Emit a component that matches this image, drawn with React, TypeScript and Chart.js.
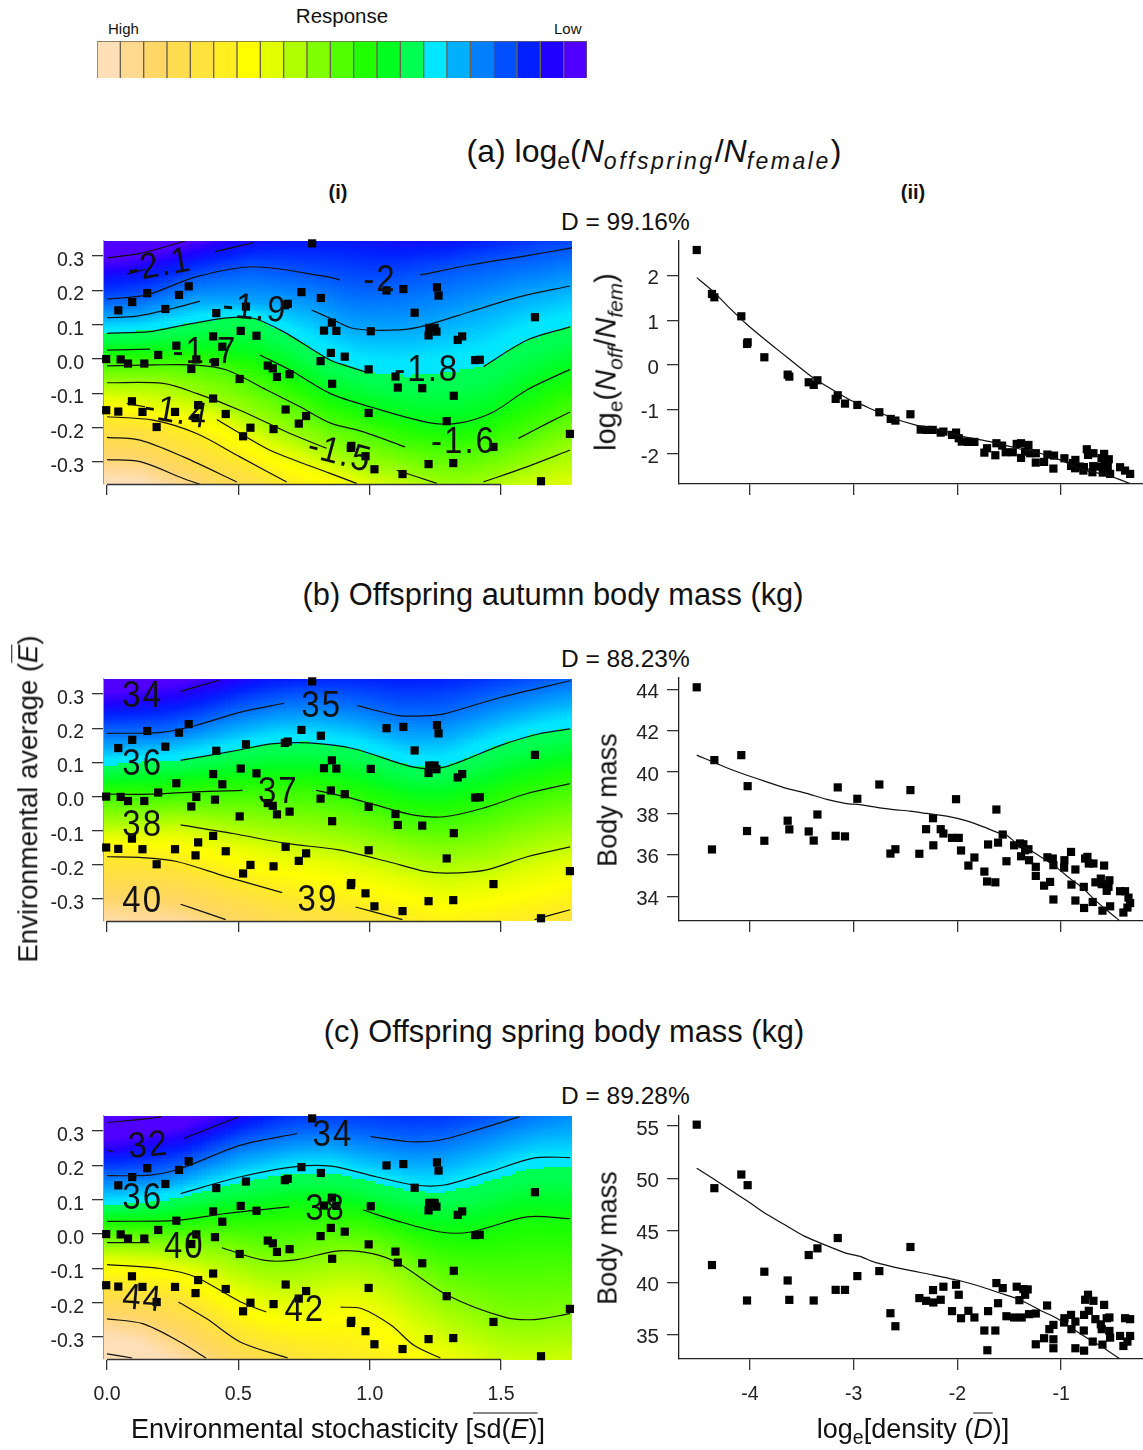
import React, { useEffect, useRef } from "react";
import { Chart, registerables } from "chart.js";

Chart.register(...registerables);
Chart.defaults.font.family = '"Liberation Sans", Arial, sans-serif';
Chart.defaults.color = "#222";

const LEGEND_COLORS = ["#FFDFB8","#FFD990","#FFD766","#FFDC50","#FFE23C","#FFEE20","#FFFF00","#E2FF00","#B0FF00","#80FF00","#50FF00","#20FF00","#00FF20","#00FF50","#00E6FF","#00B0FF","#0080FF","#0050FF","#0020FF","#2000FF","#5000FF"];
const LEGEND_VALUES = LEGEND_COLORS.map(() => 1);

// Left column: environmental stochasticity, environmental average
const SITES: number[][] = [[.781,.337],[.153,.192],[.274,.187],[.311,.212],[.096,.166],[.043,.142],[.222,.146],[.416,.134],[.529,.153],[.677,.157],[.688,.161],[.74,.195],[.814,.178],[1.064,.2],[1.128,.204],[1.256,.209],[1.262,.185],[1.171,.135],[1.226,.091],[1.247,.091],[1.254,.08],[1.224,.069],[1.352,.066],[1.335,.056],[1.629,.122],[.856,.106],[.826,.083],[.873,.082],[1.004,.081],[.509,.082],[.569,.068],[.404,.066],[.439,.036],[.264,.039],[.195,.012],[-.003,0],[.052,-.001],[.08,-.013],[.142,-.013],[.34,-.001],[.321,-.029],[.411,-.009],[.505,-.058],[.612,-.019],[.631,-.027],[.647,-.052],[.695,-.044],[.813,-.006],[.852,.018],[.905,.007],[.857,-.072],[.996,-.03],[1.098,-.051],[1.107,-.083],[1.2,-.085],[1.32,-.107],[1.401,-.003],[1.419,-.002],[.095,-.123],[-.003,-.149],[.043,-.153],[.135,-.154],[.259,-.154],[.347,-.134],[.404,-.115],[.337,-.172],[.452,-.16],[.189,-.198],[.546,-.2],[.518,-.225],[.634,-.204],[.68,-.147],[.758,-.166],[.73,-.188],[.996,-.157],[1.293,-.181],[.93,-.253],[.928,-.259],[.984,-.283],[1.018,-.321],[1.125,-.335],[1.224,-.306],[1.318,-.303],[1.471,-.256],[1.652,-.356],[1.762,-.218]];

// Contours: [x, y] or [x, y, 0] where the line is interrupted for its label
const A_LEVELS = [-2.2,-2.1,-2,-1.9,-1.8,-1.7,-1.6,-1.5,-1.4,-1.3,-1.2,-1.1];
const A_CONTOURS: number[][][] = [
  [[0,.295],[.126,.308],[.275,.339],[.38,.365],[.7,.47,0],[1.1,.46,0],[1.4,.48,0],[1.78,.53,0]],
  [[0,.24,0],[.05,.244,0],[.075,.247],[.145,.261],[.2,.27,0],[.3,.29,0],[.411,.313],[.557,.339],[.7,.36,0],[.9,.37,0],[1.1,.345,0],[1.3,.35,0],[1.5,.385,0],[1.78,.43,0]],
  [[0,.175],[.151,.187],[.341,.24],[.557,.269],[.849,.238],[.887,.23],[1,.22,0],[1.1,.23,0],[1.192,.245],[1.382,.274],[1.573,.298],[1.763,.323],[1.78,.325]],
  [[0,.121],[.113,.125],[.253,.148],[.354,.169],[.5,.165,0],[.65,.16,0],[.779,.143],[.849,.119],[.938,.089],[1.116,.085],[1.217,.099],[1.382,.138],[1.573,.182],[1.763,.213]],
  [[0,.075],[.164,.08],[.291,.099],[.456,.12],[.557,.119],[.671,.08],[.849,-.003],[.9,-.017],[.995,-.04],[1.15,-.05,0],[1.3,-.04,0],[1.433,-.022],[1.598,.055],[1.763,.094]],
  [[0,.026],[.164,.029],[.3,.03,0],[.45,.025,0],[.56,.015,0],[.582,.012],[.697,-.032],[.849,-.1],[1.001,-.139],[1.23,-.186],[1.344,-.186],[1.471,-.154],[1.598,-.09],[1.763,-.03]],
  [[0,-.02],[.176,-.017],[.329,-.017],[.456,-.032],[.608,-.09],[.735,-.139],[.849,-.186],[.976,-.212],[1.135,-.256],[1.25,-.27,0],[1.4,-.27,0],[1.566,-.231],[1.674,-.188],[1.763,-.154]],
  [[0,-.069],[.214,-.071],[.341,-.1],[.506,-.149],[.697,-.217],[.836,-.26],[.95,-.3,0],[1.05,-.32,0],[1.103,-.324],[1.255,-.362],[1.35,-.375,0],[1.433,-.358],[1.598,-.314],[1.763,-.265]],
  [[0,-.12,0],[.05,-.124,0],[.075,-.129],[.145,-.139],[.3,-.16,0],[.36,-.17,0],[.418,-.176],[.519,-.222],[.633,-.27],[.849,-.333],[.95,-.362],[1.2,-.42,0],[1.5,-.41,0],[1.78,-.39,0]],
  [[0,-.168],[.176,-.178],[.341,-.217],[.506,-.285],[.684,-.358],[.9,-.42,0],[1.3,-.47,0],[1.78,-.45,0]],
  [[0,-.228],[.126,-.236],[.291,-.285],[.494,-.358],[.7,-.43,0],[1.3,-.56,0],[1.78,-.55,0]],
  [[0,-.293],[.126,-.299],[.291,-.348],[.354,-.365],[.5,-.43,0],[1.3,-.66,0],[1.78,-.65,0]],
];
const A_LABELS: [string, number, number, number][] = [["-2.1",.2,.274,-10],["-2",1.039,.23,0],["-1.9",.563,.148,5],["-1.7",.373,.021,0],["-1.4",.265,-.154,10],["-1.5",.887,-.275,15],["-1.8",1.217,-.032,0],["-1.6",1.357,-.241,0]];

const B_LEVELS = [34,35,36,37,38,39,40];
const B_CONTOURS: number[][][] = [
  [[0,.28,0],[.12,.29,0],[.28,.308],[.43,.341],[.6,.38,0],[.9,.41,0],[1.2,.42,0],[1.78,.45,0]],
  [[0,.185],[.208,.188],[.337,.208],[.509,.247],[.674,.273],[.8,.28,0],[.953,.266],[1.111,.237],[1.226,.237],[1.283,.242],[1.498,.29],[1.763,.339]],
  [[0,.09,0],[.13,.1,0],[.28,.106],[.509,.137],[.624,.154],[.767,.157],[.939,.14],[1.168,.086],[1.283,.086],[1.498,.15],[1.642,.183],[1.763,.198]],
  [[0,.007],[.165,.007],[.337,.014],[.516,.018],[.65,.02,0],[.796,.018],[.91,-.001],[1.025,-.025],[1.168,-.054],[1.283,-.059],[1.427,-.035],[1.599,.009],[1.763,.038]],
  [[0,-.095,0],[.13,-.09,0],[.28,-.083],[.48,-.108],[.681,-.137],[.882,-.156],[1.068,-.19],[1.211,-.219],[1.298,-.224],[1.441,-.215],[1.599,-.176],[1.763,-.147]],
  [[0,-.176],[.122,-.178],[.265,-.19],[.452,-.234],[.667,-.281],[.8,-.3,0],[.946,-.323],[1.125,-.36],[1.3,-.4,0],[1.627,-.36],[1.763,-.331]],
  [[0,-.3,0],[.13,-.305,0],[.28,-.315],[.38,-.341],[.452,-.36],[.7,-.44,0],[1.3,-.5,0],[1.78,-.45,0]],
];
const B_LABELS: [string, number, number, number][] = [["34",.136,.295,0],["35",.817,.265,0],["36",.136,.096,0],["37",.652,.014,0],["38",.136,-.083,0],["39",.803,-.302,0],["40",.136,-.304,0]];

const C_LEVELS = [30,32,34,36,38,40,42,44,46,48];
const C_CONTOURS: number[][][] = [
  [[0,.325],[.165,.337],[.208,.342],[.4,.4,0],[.8,.5,0],[1.2,.52,0],[1.78,.55,0]],
  [[0,.245],[.022,.24],[.15,.26,0],[.294,.279],[.502,.342],[.7,.4,0],[1,.42,0],[1.3,.42,0],[1.78,.46,0]],
  [[0,.17],[.165,.172],[.28,.191],[.509,.259],[.724,.293],[.85,.3,0],[1.004,.284],[1.154,.269],[1.269,.274],[1.427,.308],[1.57,.342],[1.78,.39,0]],
  [[0,.09,0],[.13,.1,0],[.28,.118],[.509,.167],[.71,.196],[.853,.198],[1.025,.167],[1.168,.143],[1.283,.143],[1.455,.181],[1.627,.222],[1.763,.223]],
  [[0,.037],[.265,.04],[.452,.06],[.695,.079],[.84,.08,0],[.975,.07],[1.097,.04],[1.269,.006],[1.384,.006],[1.599,.05],[1.763,.045]],
  [[0,-.025],[.162,-.025],[.3,-.035,0],[.437,-.04],[.595,-.076],[.71,-.076],[.882,-.049],[1.011,-.057],[1.111,-.086],[1.298,-.179],[1.513,-.242],[1.627,-.249],[1.763,-.232]],
  [[0,-.089],[.208,-.101],[.337,-.125],[.509,-.198],[.606,-.227],[.75,-.235,0],[.889,-.213],[.968,-.217],[1.082,-.266],[1.168,-.324],[1.269,-.361],[1.5,-.45,0],[1.78,-.45,0]],
  [[0,-.165,0],[.13,-.18,0],[.272,-.198],[.38,-.247],[.509,-.315],[.688,-.361],[1,-.45,0],[1.78,-.6,0]],
  [[0,-.247],[.136,-.261],[.28,-.315],[.377,-.361],[.7,-.5,0],[1.78,-.7,0]],
  [[0,-.349],[.096,-.361],[.3,-.45,0],[1.78,-.8,0]],
];
const C_LABELS: [string, number, number, number][] = [["32",.158,.259,-5],["34",.86,.288,0],["36",.136,.104,0],["38",.832,.074,0],["40",.294,-.037,0],["42",.753,-.222,0],["44",.136,-.188,5]];

// Right column: log density against response
const A_DENSITY: number[][] = [[-4.514,2.578],[-4.367,1.592],[-4.344,1.517],[-4.084,1.091],[-4.023,.508],[-4.029,.471],[-3.862,.172],[-3.637,-.217],[-3.621,-.262],[-3.434,-.389],[-3.386,-.448],[-3.35,-.344],[-3.154,-.68],[-3.174,-.762],[-3.084,-.867],[-2.965,-.897],[-2.753,-1.061],[-2.643,-1.211],[-2.598,-1.248],[-2.453,-1.106],[-2.354,-1.45],[-2.296,-1.457],[-2.238,-1.457],[-2.161,-1.517],[-2.135,-1.495],[-2.052,-1.57],[-2.013,-1.517],[-1.987,-1.644],[-1.958,-1.719],[-1.894,-1.726],[-1.836,-1.726],[-1.74,-1.966],[-1.714,-1.868],[-1.634,-2.025],[-1.624,-1.756],[-1.569,-1.809],[-1.534,-1.958],[-1.466,-1.958],[-1.428,-1.771],[-1.386,-1.756],[-1.386,-2.085],[-1.315,-1.794],[-1.347,-1.943],[-1.299,-1.98],[-1.244,-1.98],[-1.244,-2.19],[-1.164,-2.175],[-1.132,-2.01],[-1.068,-2.033],[-1.074,-2.324],[-.968,-2.093],[-.904,-2.265],[-.862,-2.13],[-.865,-2.317],[-.785,-2.369],[-.752,-1.891],[-.74,-2.018],[-.688,-1.98],[-.698,-2.406],[-.617,-2.279],[-.585,-1.995],[-.598,-2.414],[-.54,-2.115],[-.527,-2.444],[-.431,-2.294],[-.383,-2.369],[-.334,-2.444],[-.885,-2.2],[-.82,-2.28],[-.69,-2.27],[-.58,-2.17],[-.55,-2.28],[-.78,-2.29],[-.61,-2.09]];
const A_FIT: number[][] = [[-4.514,1.958],[-4.354,1.644],[-4.193,1.27],[-4.032,.912],[-3.871,.598],[-3.711,.299],[-3.55,0],[-3.405,-.262],[-3.228,-.523],[-3.035,-.785],[-2.939,-.874],[-2.794,-1.024],[-2.617,-1.196],[-2.408,-1.345],[-2.167,-1.457],[-1.942,-1.607],[-1.685,-1.719],[-1.428,-1.868],[-1.203,-1.981],[-1.01,-2.13],[-.785,-2.354],[-.56,-2.466],[-.334,-2.66]];

const B_DENSITY: number[][] = [[-4.514,44.1],[-4.367,36.26],[-4.344,40.58],[-4.084,40.82],[-4.023,39.32],[-4.029,37.15],[-3.862,36.68],[-3.637,37.65],[-3.621,37.23],[-3.434,37.13],[-3.386,36.69],[-3.35,37.95],[-3.154,39.26],[-3.174,36.92],[-3.084,36.89],[-2.965,38.71],[-2.753,39.4],[-2.646,36.06],[-2.598,36.27],[-2.453,39.13],[-2.367,36.05],[-2.302,37.24],[-2.235,37.77],[-2.232,36.46],[-2.161,37.24],[-2.135,37.03],[-2.052,36.82],[-2.013,38.69],[-1.987,36.82],[-1.965,36.21],[-1.894,35.48],[-1.836,35.87],[-1.74,35.19],[-1.714,34.71],[-1.704,36.5],[-1.634,34.67],[-1.624,38.19],[-1.608,36.59],[-1.563,36.98],[-1.527,35.69],[-1.453,36.46],[-1.396,36.55],[-1.364,36.51],[-1.386,35.93],[-1.347,36.22],[-1.315,36.27],[-1.309,35.74],[-1.244,35.42],[-1.244,34.98],[-1.164,34.51],[-1.106,34.69],[-1.132,35.88],[-1.08,35.82],[-1.074,35.5],[-1.074,33.84],[-.968,35.74],[-.971,35.38],[-.904,36.14],[-.9,34.56],[-.862,35.29],[-.862,33.79],[-.778,33.43],[-.781,34.45],[-.768,35.82],[-.746,35.9],[-.733,35.58],[-.688,35.58],[-.695,33.72],[-.669,34.67],[-.617,34.85],[-.608,34.58],[-.585,35.48],[-.56,34.26],[-.534,34.77],[-.543,34.45],[-.601,33.3],[-.527,33.51],[-.431,34.24],[-.383,34.24],[-.35,33.93],[-.334,33.67],[-.36,33.45],[-.399,33.21]];
const B_FIT: number[][] = [[-4.514,40.82],[-4.225,40.21],[-4.03,39.85],[-3.84,39.53],[-3.646,39.21],[-3.453,38.97],[-3.26,38.68],[-3.07,38.48],[-2.939,38.43],[-2.778,38.29],[-2.617,38.19],[-2.457,38.11],[-2.296,38],[-2.103,37.87],[-1.91,37.64],[-1.749,37.35],[-1.605,37.06],[-1.524,36.95],[-1.428,36.55],[-1.299,36.22],[-1.171,35.82],[-1.042,35.38],[-.913,34.85],[-.785,34.37],[-.688,33.88],[-.56,33.32],[-.431,32.8]];

const C_DENSITY: number[][] = [[-4.514,55.13],[-4.367,41.67],[-4.344,49.04],[-4.084,50.35],[-4.023,49.33],[-4.029,38.27],[-3.862,41.03],[-3.637,40.19],[-3.621,38.33],[-3.434,42.63],[-3.386,38.27],[-3.35,43.27],[-3.154,44.26],[-3.174,39.29],[-3.084,39.29],[-2.965,40.61],[-2.753,41.09],[-2.646,37.05],[-2.598,35.8],[-2.453,43.4],[-2.367,38.5],[-2.302,38.24],[-2.235,39.27],[-2.232,38.08],[-2.161,38.34],[-2.135,39.59],[-2.052,37.25],[-2.013,39.78],[-1.987,38.82],[-1.965,36.57],[-1.894,37.28],[-1.836,36.64],[-1.74,35.39],[-1.711,33.5],[-1.704,37.25],[-1.634,35.39],[-1.624,39.94],[-1.608,38.01],[-1.563,39.46],[-1.527,36.76],[-1.453,36.64],[-1.428,39.59],[-1.38,36.64],[-1.364,39.36],[-1.322,39.33],[-1.347,38.82],[-1.402,38.3],[-1.309,36.96],[-1.244,37.02],[-1.244,34.07],[-1.164,34.65],[-1.135,37.79],[-1.113,35.52],[-1.074,35.93],[-1.074,34.55],[-1.074,33.69],[-.968,36.57],[-.971,36.16],[-.904,36.89],[-.9,35.52],[-.862,36.25],[-.862,33.69],[-.778,33.46],[-.781,35.39],[-.768,38.34],[-.74,38.82],[-.688,38.24],[-.778,36.89],[-.733,37.28],[-.695,34.33],[-.669,36.48],[-.617,35.98],[-.608,35.52],[-.585,37.85],[-.56,36.57],[-.534,35.35],[-.527,34.71],[-.601,34.04],[-.534,36.64],[-.431,34.87],[-.383,36.57],[-.334,36.48],[-.334,34.87],[-.36,34.33],[-.399,33.91]];
const C_FIT: number[][] = [[-4.514,50.96],[-4.354,49.94],[-4.193,48.88],[-4.032,47.85],[-3.871,46.73],[-3.678,45.61],[-3.486,44.49],[-3.26,43.53],[-3.068,42.79],[-2.939,42.5],[-2.794,41.93],[-2.521,41.28],[-2.232,40.71],[-1.974,40.16],[-1.749,39.52],[-1.556,38.88],[-1.396,38.34],[-1.203,37.34],[-1.042,36.57],[-.881,35.51],[-.72,34.49],[-.592,33.75],[-.431,32.66]];

const SD_TICKS = [0, .5, 1, 1.5];
const MEAN_TICKS = [.3, .2, .1, 0, -.1, -.2, -.3];
const DENSITY_TICKS = [-4, -3, -2, -1];
const A_RIGHT_TICKS = [2, 1, 0, -1, -2];
const B_RIGHT_TICKS = [44, 42, 40, 38, 36, 34];
const C_RIGHT_TICKS = [55, 50, 45, 40, 35];

function hexRgb(h: string) {
  return [parseInt(h.slice(1, 3), 16), parseInt(h.slice(3, 5), 16), parseInt(h.slice(5, 7), 16)];
}
const STOPS = LEGEND_COLORS.map(hexRgb);
function colourAt(idx: number) {
  const v = Math.max(1, Math.min(21, idx));
  const i = Math.floor(v);
  const f = v - i;
  const a = STOPS[i - 1];
  const b = STOPS[Math.min(20, i)];
  if (i === 14) return f < 0.5 ? `rgb(${a})` : `rgb(${b})`;
  return `rgb(${a[0] + (b[0] - a[0]) * f},${a[1] + (b[1] - a[1]) * f},${a[2] + (b[2] - a[2]) * f})`;
}
function contourY(c: number[][], x: number) {
  if (x <= c[0][0]) return c[0][1];
  for (let i = 1; i < c.length; i++) {
    if (x <= c[i][0]) {
      const t = (x - c[i - 1][0]) / (c[i][0] - c[i - 1][0]);
      return c[i - 1][1] + (c[i][1] - c[i - 1][1]) * t;
    }
  }
  return c[c.length - 1][1];
}
function surface(levels: number[], ys: number[], y: number) {
  const n = levels.length;
  if (y >= ys[0]) return levels[0] - ((y - ys[0]) / Math.max(ys[0] - ys[1], 0.02)) * (levels[1] - levels[0]);
  for (let k = 1; k < n; k++) {
    if (y >= ys[k]) return levels[k - 1] + ((ys[k - 1] - y) / Math.max(ys[k - 1] - ys[k], 1e-4)) * (levels[k] - levels[k - 1]);
  }
  return levels[n - 1] + ((ys[n - 1] - y) / Math.max(ys[n - 2] - ys[n - 1], 0.02)) * (levels[n - 1] - levels[n - 2]);
}

function heatPlugin(levels: number[], contours: number[][][], labels: [string, number, number, number][], z0: number, slope: number) {
  return {
    id: "surface",
    beforeDatasetsDraw(chart: any) {
      const { ctx, chartArea: a, scales } = chart;
      const nx = 100, ny = 100;
      const w = (a.right - a.left) / nx, h = (a.bottom - a.top) / ny;
      ctx.save();
      for (let i = 0; i < nx; i++) {
        const px = a.left + i * w;
        const x = scales.x.getValueForPixel(px + w / 2);
        const ys = contours.map((c) => contourY(c, x));
        for (let j = 0; j < ny; j++) {
          const py = a.top + j * h;
          const z = surface(levels, ys, scales.y.getValueForPixel(py + h / 2));
          ctx.fillStyle = colourAt(14.5 - (z - z0) * slope);
          const l = Math.floor(px), t = Math.floor(py);
          ctx.fillRect(l, t, Math.ceil(px + w) - l, Math.ceil(py + h) - t);
        }
      }
      ctx.restore();
    },
    afterDatasetsDraw(chart: any) {
      const { ctx, scales } = chart;
      ctx.save();
      ctx.fillStyle = "#111";
      ctx.font = '33px "Liberation Sans", sans-serif';
      (ctx as any).letterSpacing = "2px";
      ctx.textAlign = "center";
      ctx.textBaseline = "middle";
      for (const [t, x, y, r] of labels) {
        ctx.save();
        ctx.translate(scales.x.getPixelForValue(x), scales.y.getPixelForValue(y));
        ctx.rotate((r * Math.PI) / 180);
        ctx.scale(1, 1.1);
        ctx.fillText(t, 0, 1);
        ctx.restore();
      }
      ctx.restore();
    },
  };
}
const axisSpan = {
  id: "axisSpan",
  afterDraw(chart: any) {
    const { ctx, scales, chartArea } = chart;
    ctx.save();
    ctx.strokeStyle = "#333";
    ctx.lineWidth = 1.3;
    ctx.beginPath();
    ctx.moveTo(scales.x.getPixelForValue(SD_TICKS[0]), chartArea.bottom + 0.5);
    ctx.lineTo(scales.x.getPixelForValue(SD_TICKS[3]), chartArea.bottom + 0.5);
    ctx.stroke();
    ctx.restore();
  },
};
function noPad(s: any) {
  s.paddingTop = 0; s.paddingBottom = 0; s.paddingLeft = 0; s.paddingRight = 0;
}

function axes(o: any) {
  return {
    x: {
      type: "linear", min: o.xMin, max: o.xMax,
      afterFit: (s: any) => { s.height = 60; noPad(s); },
      afterBuildTicks: (s: any) => { s.ticks = o.xTicks.map((value: number) => ({ value })); },
      grid: { drawOnChartArea: false, drawTicks: true, tickLength: 11, color: "#333", lineWidth: 1.3 },
      border: o.fullAxis ? { display: true, color: "#222", width: 1.3 } : { display: false },
      ticks: {
        autoSkip: false, maxRotation: 0, padding: 13, font: { size: 19.5 }, color: "#222",
        callback: (v: number) => (o.showX ? o.xFormat(v) : ""),
      },
    },
    y: {
      type: "linear", min: o.yMin, max: o.yMax,
      afterFit: (s: any) => { s.width = o.axisWidth; noPad(s); },
      afterBuildTicks: (s: any) => { s.ticks = o.yTicks.map((value: number) => ({ value })); },
      grid: { drawOnChartArea: false, drawTicks: true, tickLength: 12, color: "#333", lineWidth: 1.3 },
      border: { display: true, color: o.fullAxis ? "#222" : "#999", width: 1.3 },
      ticks: {
        autoSkip: false, padding: 8, labelOffset: o.labelOffset, font: { size: o.fontY }, color: "#222",
        callback: o.yFormat,
      },
    },
  };
}

const BASE: any = {
  responsive: false,
  animation: false,
  events: [],
  layout: { autoPadding: false },
  plugins: { legend: { display: false }, tooltip: { enabled: false }, title: { display: false } },
};

function heatConfig(levels: number[], contours: number[][][], labels: [string, number, number, number][], z0: number, slope: number, showX: boolean) {
  return {
    type: "scatter",
    plugins: [heatPlugin(levels, contours, labels, z0, slope), axisSpan],
    data: {
      datasets: [
        ...contours.map((c, i) => ({
          label: "Contour " + levels[i],
          showLine: true, pointRadius: 0, borderColor: "#111", borderWidth: 1.2, tension: 0.3, spanGaps: false,
          data: c.map((p) => ({ x: p[0], y: p.length > 2 ? null : p[1] })),
        })),
        {
          label: "Sites", showLine: false, pointStyle: "rect", pointRadius: 5.8, pointBackgroundColor: "#000", pointBorderWidth: 0,
          clip: false,
          data: SITES.map((p) => ({ x: p[0], y: p[1] })),
        },
      ],
    },
    options: {
      ...BASE,
      layout: { autoPadding: false, padding: { top: 8, right: 18, left: 0, bottom: 0 } },
      scales: axes({
        xMin: -0.0114, xMax: 1.77, xTicks: SD_TICKS, showX, xFormat: (v: number) => v.toFixed(1),
        yMin: -0.364, yMax: 0.344, yTicks: MEAN_TICKS, axisWidth: 104, fontY: 19.5, labelOffset: 4.5,
        yFormat: (v: number) => v.toFixed(1),
      }),
    },
  };
}
function fitConfig(points: number[][], fit: number[][], yMin: number, yMax: number, yTicks: number[], showX: boolean) {
  return {
    type: "scatter",
    plugins: [],
    data: {
      datasets: [
        { label: "Fit", showLine: true, pointRadius: 0, borderColor: "#111", borderWidth: 1.2, tension: 0.2, data: fit.map((p) => ({ x: p[0], y: p[1] })) },
        { label: "Sites", showLine: false, pointStyle: "rect", pointRadius: 5.8, pointBackgroundColor: "#000", pointBorderWidth: 0, clip: false, data: points.map((p) => ({ x: p[0], y: p[1] })) },
      ],
    },
    options: {
      ...BASE,
      layout: { autoPadding: false, padding: { top: 8, right: 0, left: 0, bottom: 0 } },
      scales: axes({
        xMin: -4.685, xMax: -0.21, xTicks: DENSITY_TICKS, showX, xFormat: (v: number) => String(v), fullAxis: true,
        yMin, yMax, yTicks, axisWidth: 79, fontY: 20.5, labelOffset: 3, yFormat: (v: number) => String(v),
      }),
    },
  };
}
const legendConfig = {
  type: "bar",
  data: {
    labels: LEGEND_COLORS.map((_, i) => String(i + 1)),
    datasets: [{ data: LEGEND_VALUES, backgroundColor: LEGEND_COLORS, borderColor: "#6b6250", borderWidth: 1, barPercentage: 1, categoryPercentage: 1 }],
  },
  options: {
    ...BASE,
    scales: { x: { display: false }, y: { display: false, min: 0, max: 1 } },
  },
};

function Panel({ config, left, top, width, height }: any) {
  const ref = useRef<HTMLCanvasElement>(null);
  useEffect(() => {
    const chart = new Chart(ref.current as any, config);
    return () => chart.destroy();
  }, [config]);
  return <canvas ref={ref} width={width} height={height} style={{ position: "absolute", left, top, width, height }} />;
}

const SANS = '"Liberation Sans", Arial, sans-serif';
function T({ x, y, size, children, center, rotate, bold }: any) {
  return (
    <div
      style={{
        position: "absolute", left: x, top: y, fontSize: size, fontFamily: SANS, lineHeight: 1, whiteSpace: "nowrap", color: "#111",
        fontWeight: bold ? "bold" : "normal",
        transform: rotate ? "translate(-50%,-50%) rotate(-90deg)" : center ? "translate(-50%,-50%)" : "translateY(-50%)",
      }}
    >
      {children}
    </div>
  );
}
const Sub = ({ children, sp }: any) => (
  <sub style={{ fontSize: "0.72em", lineHeight: 0, letterSpacing: sp }}>{children}</sub>
);
const Over = ({ children }: any) => <span style={{ textDecoration: "overline", textDecorationThickness: 1 }}>{children}</span>;

const PANEL_A = heatConfig(A_LEVELS, A_CONTOURS, A_LABELS, -1.8, 17, false);
const PANEL_B = heatConfig(B_LEVELS, B_CONTOURS, B_LABELS, 36, 2.9, false);
const PANEL_C = heatConfig(C_LEVELS, C_CONTOURS, C_LABELS, 36.35, 1.25, true);
const FIT_A = fitConfig(A_DENSITY, A_FIT, -2.67, 2.78, A_RIGHT_TICKS, false);
const FIT_B = fitConfig(B_DENSITY, B_FIT, 32.8, 44.55, B_RIGHT_TICKS, false);
const FIT_C = fitConfig(C_DENSITY, C_FIT, 32.66, 55.96, C_RIGHT_TICKS, true);

export default function App() {
  return (
    <div style={{ position: "absolute", left: 0, top: 0, width: 1143, height: 1450, overflow: "hidden", background: "#fff" }}>
      <Panel config={legendConfig} left={97} top={41} width={490} height={37} />
      <T x={342} y={16} size={20.5} center>Response</T>
      <T x={108} y={28} size={15}>High</T>
      <T x={554} y={28} size={15}>Low</T>

      <T x={654} y={151} size={32} center>(a) log<Sub>e</Sub>(<i>N</i><Sub sp="2.5px"><i>offspring</i></Sub>/<i>N</i><Sub sp="2.5px"><i>female</i></Sub>)</T>
      <T x={338} y={192} size={20} center bold>(i)</T>
      <T x={913} y={192} size={20} center bold>(ii)</T>
      <T x={561} y={222} size={24.5}>D = 99.16%</T>
      <Panel config={PANEL_A} left={0} top={233} width={590} height={311} />
      <Panel config={FIT_A} left={600} top={233} width={543} height={311} />
      <T x={606} y={362} size={29} rotate>log<Sub>e</Sub>(<i>N</i><Sub><i>off</i></Sub>/<i>N</i><Sub><i>fem</i></Sub>)</T>

      <T x={553} y={595} size={30.8} center>(b) Offspring autumn body mass (kg)</T>
      <T x={561} y={659} size={24.5}>D = 88.23%</T>
      <Panel config={PANEL_B} left={0} top={671} width={590} height={310} />
      <Panel config={FIT_B} left={600} top={670} width={543} height={311} />
      <T x={28} y={799} size={27.5} rotate>Environmental average (<Over><i>E</i></Over>)</T>
      <T x={608} y={800} size={27} rotate>Body mass</T>

      <T x={564} y={1032} size={30.8} center>(c) Offspring spring body mass (kg)</T>
      <T x={561} y={1096} size={24.5}>D = 89.28%</T>
      <Panel config={PANEL_C} left={0} top={1108} width={590} height={311} />
      <Panel config={FIT_C} left={600} top={1108} width={543} height={311} />
      <T x={608} y={1238} size={27} rotate>Body mass</T>
      <T x={338} y={1429} size={27} center>Environmental stochasticity [<Over>sd(<i>E</i>)</Over>]</T>
      <T x={913} y={1429} size={27} center>log<Sub>e</Sub>[density (<Over><i>D</i></Over>)]</T>
    </div>
  );
}
